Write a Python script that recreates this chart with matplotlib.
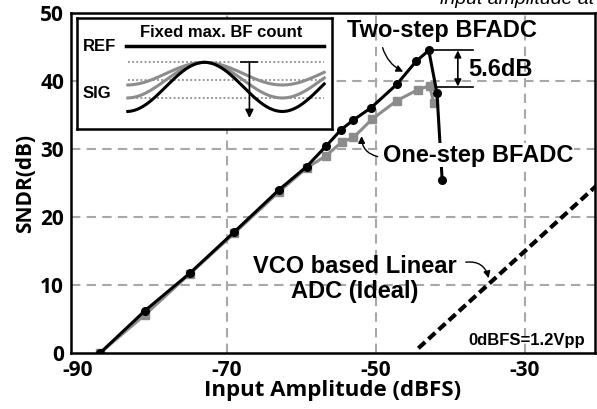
import numpy as np
import matplotlib.pyplot as plt

plt.rcParams['axes.unicode_minus'] = False

# --- data ---
two_step_x = [-87, -81, -75, -69, -63, -59.3, -56.7, -54.7, -53.1, -50.6, -47.2, -44.6, -42.9, -41.8, -41.1]
two_step_y = [0, 6.2, 11.7, 17.8, 24.0, 27.4, 30.4, 32.8, 34.2, 36.1, 39.5, 42.9, 44.5, 38.2, 25.4]

one_step_x = [-87, -81, -75, -69, -63, -59.3, -56.7, -54.6, -53.0, -50.5, -47.2, -44.4, -42.8, -42.2]
one_step_y = [0, 5.6, 11.6, 17.6, 23.7, 27.2, 29.0, 31.0, 31.7, 34.4, 37.1, 38.7, 39.3, 36.7]

vco_x = [-44.3, -20]
vco_y = [0.7, 25.0]

x_ticks = [-90, -70, -50, -30]
y_ticks = [0, 10, 20, 30, 40, 50]

# inset sketch: trough levels of the three signal waves (inset units)
sig_troughs = [67, 80, 93.5]
sig_colors = ['#8c8c8c', '#8c8c8c', 'black']
dotted_levels = [44.3, 62, 79.7]

GRAY = '#8c8c8c'
GRID = '#a8a8a8'
ARIAL = 'Liberation Sans'
SEGOE = 'Open Sans'

fig = plt.figure(figsize=(5.97, 4.09), dpi=100)
ax = fig.add_axes([71 / 597, 56 / 409, (595 - 71) / 597, (353 - 13) / 409])

for v in [-70, -50, -30]:
    ax.axvline(v, color=GRID, lw=1.5, ls=(0, (4.5, 3)), zorder=0)
for h in [10, 20, 30, 40]:
    ax.axhline(h, color=GRID, lw=1.5, ls=(0, (4.5, 3)), zorder=0)

ax.plot(one_step_x, one_step_y, color=GRAY, lw=2.2, marker='s', ms=6, zorder=2)
ax.plot(two_step_x, two_step_y, color='black', lw=2.2, marker='o', ms=5.5, zorder=3)
ax.plot(vco_x, vco_y, color='black', lw=3, ls=(0, (2.2, 1.1)), zorder=3)

ax.set_xlim(-90.9, -20.6)
ax.set_ylim(0, 50)
ax.set_xticks(x_ticks)
ax.set_yticks(y_ticks)
ax.tick_params(length=0, labelsize=15)
ax.tick_params(axis='x', pad=5)
ax.tick_params(axis='y', pad=5)
for lab in ax.get_xticklabels() + ax.get_yticklabels():
    lab.set_fontfamily(SEGOE)
    lab.set_fontweight('bold')
for s in ax.spines.values():
    s.set_linewidth(1.8)

ax.set_xlabel('Input Amplitude (dBFS)', fontfamily=SEGOE, fontweight='bold', fontsize=16, labelpad=-1)
ax.set_ylabel('SNDR(dB)', fontfamily=SEGOE, fontweight='bold', fontsize=15, labelpad=3)

# annotations
txt = dict(fontfamily=ARIAL, fontweight='bold', fontsize=17)
ax.text(-41.2, 47.5, 'Two-step BFADC', ha='center', va='center', **txt)
ax.annotate('', xy=(-46.0, 41.2), xytext=(-49.2, 45.3),
            arrowprops=dict(arrowstyle='-|>', color='black', lw=1, mutation_scale=10,
                            connectionstyle='arc3,rad=0.25'))
ax.text(-36.3, 29.1, 'One-step BFADC', ha='center', va='center', zorder=5,
        bbox=dict(facecolor='white', edgecolor='none', pad=0.5), **txt)
ax.annotate('', xy=(-51.9, 32.3), xytext=(-49.4, 28.8),
            arrowprops=dict(arrowstyle='-|>', color='black', lw=1, mutation_scale=10,
                            connectionstyle='arc3,rad=-0.45'), zorder=6)
ax.text(-52.8, 10.9, 'VCO based Linear\nADC (Ideal)', ha='center', va='center',
        linespacing=1.1, fontfamily=ARIAL, fontweight='bold', fontsize=17)
ax.annotate('', xy=(-34.8, 10.6), xytext=(-38.3, 13.3),
            arrowprops=dict(arrowstyle='-|>', color='black', lw=1, mutation_scale=10,
                            connectionstyle='arc3,rad=-0.5'))

# 5.6 dB gap marker
ax.plot([-42.6, -37.0], [44.6, 44.6], color='black', lw=1.2)
ax.plot([-41.8, -37.0], [39.1, 39.1], color='black', lw=1.2)
ax.annotate('', xy=(-39.0, 39.2), xytext=(-39.0, 44.5),
            arrowprops=dict(arrowstyle='<|-|>', color='black', lw=1.2, mutation_scale=10,
                            shrinkA=0, shrinkB=0))
ax.text(-37.6, 41.7, '5.6dB', ha='left', va='center', **txt)

ax.text(-21.9, 1.9, '0dBFS=1.2Vpp', ha='right', va='center',
        fontfamily=ARIAL, fontweight='bold', fontsize=12)

# inset sketch
ins = ax.inset_axes([0.0114, 0.659, 0.487, 0.326])
ins.set_xlim(0, 256)
ins.set_ylim(111, 0)
ins.set_xticks([])
ins.set_yticks([])
for s in ins.spines.values():
    s.set_linewidth(1.8)
ins.text(145, 14, 'Fixed max. BF count', ha='center', va='center',
         fontfamily=ARIAL, fontweight='bold', fontsize=12)
ins.text(6, 28, 'REF', ha='left', va='center', fontfamily=ARIAL, fontweight='bold', fontsize=12)
ins.text(6, 76, 'SIG', ha='left', va='center', fontfamily=ARIAL, fontweight='bold', fontsize=12)
ins.plot([49, 248], [28, 28], color='black', lw=2.5)
for lev in dotted_levels:
    ins.plot([51, 248], [lev, lev], color=GRAY, lw=1.3, ls=(0, (1, 1.3)))
xs = np.linspace(51, 248, 200)
for trough, col in zip(sig_troughs, sig_colors):
    mid = (trough + dotted_levels[0]) / 2
    amp = (trough - dotted_levels[0]) / 2
    ins.plot(xs, mid - amp * np.cos(2 * np.pi * (xs - 128) / 156), color=col, lw=2.2)
ins.plot([165, 181], [44.3, 44.3], color='black', lw=1.2)
ins.annotate('', xy=(173, 100), xytext=(173, 44.3),
             arrowprops=dict(arrowstyle='-|>', color='black', lw=1.2, mutation_scale=12,
                             shrinkA=0, shrinkB=0))

# clipped caption at the very top
fig.text(440 / 597, 1.0, 'input amplitude at 0dBFS', ha='left', va='center',
         fontfamily=ARIAL, fontstyle='italic', fontsize=14)

fig.savefig('out.png', dpi=100)
